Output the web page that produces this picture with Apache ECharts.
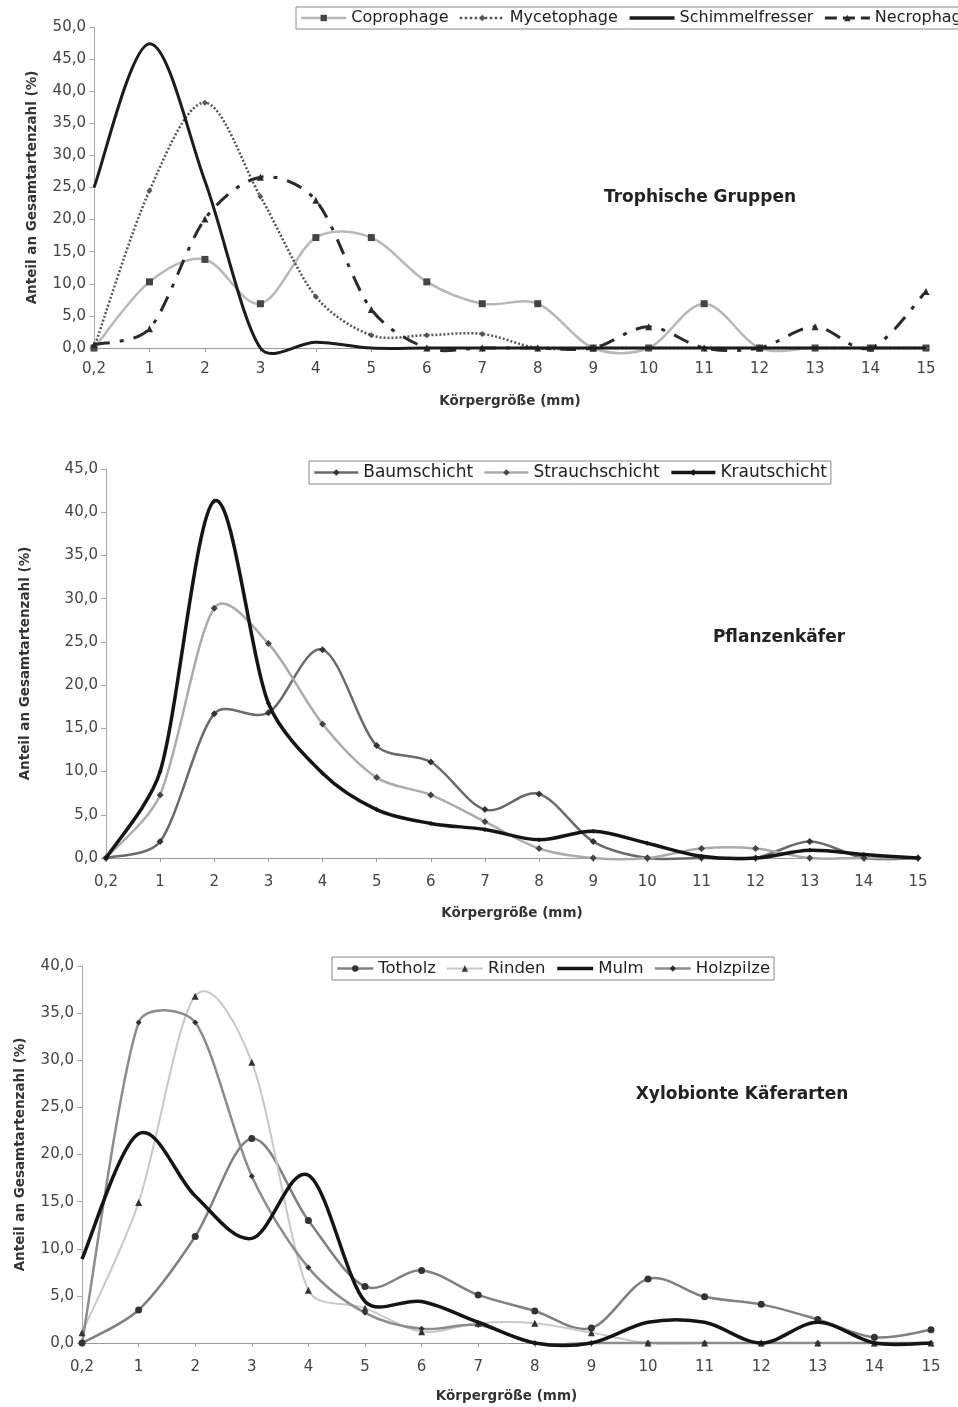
<!DOCTYPE html>
<html>
<head>
<meta charset="utf-8">
<script src="https://cdn.jsdelivr.net/npm/echarts@6/dist/echarts.min.js"></script>
<style>
  html, body { margin: 0; padding: 0; background: #fff; }
  #main { width: 958px; height: 1407px; }
</style>
</head>
<body>
<div id="main"></div>
<script>
// Körpergröße (mm) – Kategorien
var sizes = ['0,2', '1', '2', '3', '4', '5', '6', '7', '8', '9', '10', '11', '12', '13', '14', '15'];

// Trophische Gruppen
var coprophage      = [0, 10.3, 13.8, 6.9, 17.2, 17.2, 10.3, 6.9, 6.9, 0, 0, 6.9, 0, 0, 0, 0];
var mycetophage     = [0, 24.5, 38.2, 23.6, 8.0, 2.0, 2.0, 2.2, 0, 0, 0, 0, 0, 0, 0, 0];
var schimmelfresser = [25.0, 47.4, 26.0, 0, 0.9, 0, 0, 0, 0, 0, 0, 0, 0, 0, 0, 0];
var necrophage      = [0.5, 3.0, 20.1, 26.6, 23.0, 6.0, 0, 0, 0, 0, 3.3, 0, 0, 3.3, 0, 8.8];

// Pflanzenkäfer
var baumschicht    = [0, 1.9, 16.7, 16.8, 24.1, 13.0, 11.1, 5.6, 7.4, 1.9, 0, 0, 0, 1.9, 0, 0];
var strauchschicht = [0, 7.3, 28.9, 24.8, 15.5, 9.3, 7.3, 4.2, 1.1, 0, 0, 1.1, 1.1, 0, 0, 0];
var krautschicht   = [0, 10.0, 41.3, 17.9, 9.8, 5.6, 4.0, 3.3, 2.1, 3.1, 1.7, 0.2, 0, 0.9, 0.4, 0];

// Xylobionte Käferarten
var totholz   = [0, 3.5, 11.3, 21.7, 13.0, 6.0, 7.7, 5.1, 3.4, 1.6, 6.8, 4.9, 4.1, 2.5, 0.6, 1.4];
var rinden    = [1.1, 14.9, 36.8, 29.8, 5.6, 3.7, 1.2, 2.1, 2.1, 1.1, 0, 0, 0, 0, 0, 0];
var mulm      = [8.9, 22.2, 15.6, 11.1, 17.8, 4.4, 4.4, 2.2, 0, 0, 2.2, 2.2, 0, 2.2, 0, 0];
var holzpilze = [0, 34.0, 34.0, 17.7, 8.0, 3.2, 1.5, 1.9, 0, 0, 0, 0, 0, 0, 0, 0];

var yName = 'Anteil an Gesamtartenzahl (%)';
var xName = 'Körpergröße (mm)';
var FONT = 'DejaVu Sans';

var myChart = echarts.init(document.getElementById('main'));

// Excel-artige Glättung (Bezier, Spannung 1/6)
function dist(a, b) { return Math.sqrt((a[0] - b[0]) * (a[0] - b[0]) + (a[1] - b[1]) * (a[1] - b[1])); }
function smoothPath(p) {
  var f = 1 / 6, s = 'M' + p[0][0] + ' ' + p[0][1];
  for (var k = 0; k < p.length - 1; k++) {
    var p0 = p[k - 1] || p[k], p1 = p[k], p2 = p[k + 1], p3 = p[k + 2] || p[k + 1];
    var d12 = dist(p1, p2), d02 = dist(p0, p2), d13 = dist(p1, p3);
    var s1 = d02 > 2 * d12 ? 2 * d12 / d02 : 1;
    var s2 = d13 > 2 * d12 ? 2 * d12 / d13 : 1;
    var c1x = p1[0] + (p2[0] - p0[0]) * f * s1, c1y = p1[1] + (p2[1] - p0[1]) * f * s1;
    var c2x = p2[0] - (p3[0] - p1[0]) * f * s2, c2y = p2[1] - (p3[1] - p1[1]) * f * s2;
    s += ' C' + c1x + ' ' + c1y + ' ' + c2x + ' ' + c2y + ' ' + p2[0] + ' ' + p2[1];
  }
  return s;
}

function xAxis(i, gap, margin) {
  return {
    type: 'category', gridIndex: i, data: sizes, boundaryGap: false,
    name: xName, nameLocation: 'middle', nameGap: gap, nameMoveOverlap: false,
    nameTextStyle: { fontFamily: FONT, fontWeight: 'bold', fontSize: 13.5, color: '#333' },
    axisLine: { lineStyle: { color: '#999', width: 1 } },
    axisTick: { show: true, alignWithLabel: true, length: 4, lineStyle: { color: '#999' } },
    axisLabel: { fontFamily: FONT, fontSize: 15, color: '#444', margin: margin },
    splitLine: { show: false }
  };
}

function yAxis(i, max, gap) {
  return {
    type: 'value', gridIndex: i, min: 0, max: max, interval: 5,
    name: yName, nameLocation: 'middle', nameGap: gap, nameRotate: 90, nameMoveOverlap: false,
    nameTextStyle: { fontFamily: FONT, fontWeight: 'bold', fontSize: 13.5, color: '#333' },
    axisLine: { show: true, lineStyle: { color: '#aaa', width: 1 } },
    axisTick: { show: true, length: 5, lineStyle: { color: '#aaa' } },
    axisLabel: { fontFamily: FONT, fontSize: 15, color: '#444', margin: 8,
      formatter: function (v) { return v.toFixed(1).replace('.', ','); } },
    splitLine: { show: false }
  };
}

// Punkte (Marker) als Linienserie, Kurve selbst als custom-Serie
function points(name, data, i, symbol, symColor, symSize, z) {
  return {
    name: name, type: 'line', xAxisIndex: i, yAxisIndex: i, data: data,
    z: z || 3, symbol: symbol, symbolSize: symSize, showSymbol: symbol !== 'none',
    lineStyle: { opacity: 0 },
    itemStyle: { color: symColor, borderWidth: 0 },
    emphasis: { disabled: true }
  };
}

function curve(data, i, color, width, dash, z) {
  return {
    type: 'custom', xAxisIndex: i, yAxisIndex: i, z: z || 2, silent: true,
    data: data.map(function (v, k) { return [k, v]; }),
    renderItem: function (params, api) {
      if (params.dataIndex !== 0) return null;
      var pts = data.map(function (v, k) { return api.coord([k, v]); });
      return {
        type: 'path', shape: { pathData: smoothPath(pts) },
        style: { fill: 'none', stroke: color, lineWidth: width, lineDash: dash || null }
      };
    }
  };
}

function item(name, color, width, type, noSymbol) {
  var it = { name: name, lineStyle: { color: color, width: width, type: type, opacity: 1 } };
  if (noSymbol) it.itemStyle = { opacity: 0 };
  return it;
}

function legend(items, left, top, size, itemWidth) {
  return {
    data: items, left: left, top: top, orient: 'horizontal', width: 900,
    itemWidth: itemWidth, itemHeight: 8, itemGap: 10,
    padding: [3, 4], borderColor: '#888', borderWidth: 1,
    textStyle: { fontFamily: FONT, fontSize: size, color: '#222' },
    selectedMode: false
  };
}

var dashNecro = [16, 10, 4, 10];

var option = {
  backgroundColor: '#fff',
  animation: false,
  grid: [
    { left: 94, right: 32, top: 27, height: 321, outerBoundsMode: 'none', containLabel: false },
    { left: 106, right: 40, top: 469, height: 389, outerBoundsMode: 'none', containLabel: false },
    { left: 82, right: 27, top: 966, height: 377, outerBoundsMode: 'none', containLabel: false }
  ],
  xAxis: [xAxis(0, 46, 14), xAxis(1, 48, 17), xAxis(2, 46, 17)],
  yAxis: [yAxis(0, 50, 55), yAxis(1, 45, 74), yAxis(2, 40, 55)],
  legend: [
    legend([item('Coprophage', '#b8b8b8', 2.5, 'solid'), item('Mycetophage', '#555', 2.5, 'dotted'),
            item('Schimmelfresser', '#1c1c1c', 3.5, 'solid', true), item('Necrophage', '#2a2a2a', 3, 'dashed')], 296, 7, 16, 45),
    legend([item('Baumschicht', '#6a6a6a', 2.5, 'solid'), item('Strauchschicht', '#ababab', 2.5, 'solid'),
            item('Krautschicht', '#151515', 3.5, 'solid')], 309, 461, 17, 44),
    legend([item('Totholz', '#808080', 2.5, 'solid'), item('Rinden', '#c8c8c8', 2, 'solid'),
            item('Mulm', '#151515', 3.5, 'solid', true), item('Holzpilze', '#8c8c8c', 2.5, 'solid')], 332, 957, 16.5, 36)
  ],
  graphic: [
    { type: 'text', x: 700, y: 198, style: { text: 'Trophische Gruppen', fontFamily: FONT, fontWeight: 'bold', fontSize: 17, fill: '#222', align: 'center', verticalAlign: 'middle' } },
    { type: 'text', x: 779, y: 638, style: { text: 'Pflanzenkäfer', fontFamily: FONT, fontWeight: 'bold', fontSize: 17, fill: '#222', align: 'center', verticalAlign: 'middle' } },
    { type: 'text', x: 742, y: 1095, style: { text: 'Xylobionte Käferarten', fontFamily: FONT, fontWeight: 'bold', fontSize: 17, fill: '#222', align: 'center', verticalAlign: 'middle' } }
  ],
  series: [
    // Trophische Gruppen
    curve(coprophage, 0, '#b8b8b8', 2.5),
    curve(mycetophage, 0, '#555', 2.5, [2, 2]),
    curve(schimmelfresser, 0, '#1c1c1c', 3, null, 4),
    curve(necrophage, 0, '#2a2a2a', 3, dashNecro, 3),
    points('Coprophage', coprophage, 0, 'rect', '#444', 7),
    points('Mycetophage', mycetophage, 0, 'diamond', '#555', 6),
    points('Schimmelfresser', schimmelfresser, 0, 'none', '#1c1c1c', 4),
    points('Necrophage', necrophage, 0, 'triangle', '#2a2a2a', 7),
    // Pflanzenkäfer
    curve(baumschicht, 1, '#6a6a6a', 2.5),
    curve(strauchschicht, 1, '#ababab', 2.5),
    curve(krautschicht, 1, '#151515', 3.5, null, 4),
    points('Baumschicht', baumschicht, 1, 'diamond', '#333', 7),
    points('Strauchschicht', strauchschicht, 1, 'diamond', '#444', 7),
    points('Krautschicht', krautschicht, 1, 'diamond', '#151515', 5, 5),
    // Xylobionte Käferarten
    curve(totholz, 2, '#808080', 2.5),
    curve(rinden, 2, '#c8c8c8', 2),
    curve(mulm, 2, '#151515', 3.5, null, 4),
    curve(holzpilze, 2, '#8c8c8c', 2.5),
    points('Totholz', totholz, 2, 'circle', '#333', 7),
    points('Rinden', rinden, 2, 'triangle', '#333', 7),
    points('Mulm', mulm, 2, 'none', '#151515', 4),
    points('Holzpilze', holzpilze, 2, 'diamond', '#333', 6)
  ]
};

myChart.setOption(option);
</script>
</body>
</html>
